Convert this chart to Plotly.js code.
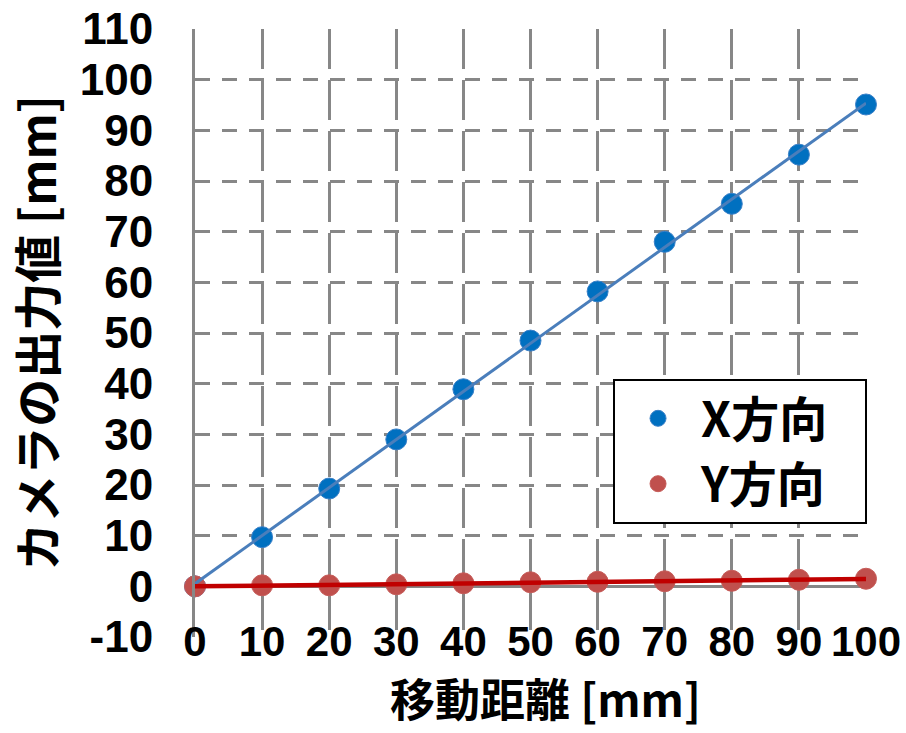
<!DOCTYPE html>
<html>
<head>
<meta charset="utf-8">
<script src="https://cdn.plot.ly/plotly-3.0.1.min.js"></script>
<style>html,body{margin:0;padding:0;background:#fff;}#chart{width:906px;height:733px;}</style>
</head>
<body>
<div id="chart"></div>
<script>
// Data
const distance = [0, 10, 20, 30, 40, 50, 60, 70, 80, 90, 100];
const xDirection = [0, 9.7, 19.3, 29.0, 38.9, 48.5, 58.2, 68.0, 75.5, 85.2, 95.1];
const yDirection = [0, 0.2, 0.2, 0.4, 0.6, 0.8, 0.9, 1.0, 1.1, 1.3, 1.5];
const seriesNames = ["X方向", "Y方向"];
const xTickVals = [0, 10, 20, 30, 40, 50, 60, 70, 80, 90, 100];
const xTickText = ["0", "10", "20", "30", "40", "50", "60", "70", "80", "90", "100"];
const yTickVals = [-10, 0, 10, 20, 30, 40, 50, 60, 70, 80, 90, 100, 110];
const yTickText = ["-10", "0", "10", "20", "30", "40", "50", "60", "70", "80", "90", "100", "110"];
const xTitle = "移動距離 [mm]";
const yTitle = "カメラの出力値 [mm]";

// Least-squares linear trendline computed from the data
function fit(xs, ys) {
  const n = xs.length;
  const mx = xs.reduce((a, b) => a + b, 0) / n;
  const my = ys.reduce((a, b) => a + b, 0) / n;
  let sxy = 0, sxx = 0;
  for (let i = 0; i < n; i++) { sxy += (xs[i] - mx) * (ys[i] - my); sxx += (xs[i] - mx) ** 2; }
  const m = sxy / sxx, b = my - m * mx;
  const x0 = Math.min(...xs), x1 = Math.max(...xs);
  return { x: [x0, x1], y: [m * x0 + b, m * x1 + b] };
}
const fitX = fit(distance, xDirection);
const fitY = fit(distance, yDirection);

const jp = "'Noto Sans CJK JP', 'Noto Sans', sans-serif";
const num = "'Liberation Sans', Arial, sans-serif";
const pad = "\u00a0\u00a0\u00a0"; // widens the legend box like the reference

const traces = [
  { type: "scatter", mode: "markers", name: seriesNames[0] + pad, x: distance, y: xDirection,
    marker: { color: "#0070C0", size: 21, line: { color: "#3A80C8", width: 1 } },
    cliponaxis: false, legendgroup: "a" },
  { type: "scatter", mode: "markers", name: seriesNames[1] + pad, x: distance, y: yDirection,
    marker: { color: "#C0504D", size: 21, line: { color: "#C65C59", width: 1 } },
    cliponaxis: false, legendgroup: "b" },
  { type: "scatter", mode: "lines", x: fitX.x, y: fitX.y, showlegend: false, cliponaxis: false,
    line: { color: "#4A7EBB", width: 3 }, hoverinfo: "skip" },
  { type: "scatter", mode: "lines", x: fitY.x, y: fitY.y, showlegend: false, cliponaxis: false,
    line: { color: "#C00000", width: 4.5 }, hoverinfo: "skip" }
];

const layout = {
  width: 906, height: 733,
  paper_bgcolor: "#ffffff", plot_bgcolor: "#ffffff",
  margin: { l: 195, r: 40, t: 29, b: 96 },
  showlegend: true,
  xaxis: {
    range: [0, 100], tickvals: xTickVals, ticktext: xTickText, ticks: "", showline: false, zeroline: false,
    showgrid: true, gridcolor: "#878787", gridwidth: 3, griddash: "40px,11px",
    tickfont: { family: num, size: 42, weight: "bold", color: "#000" },
    ticklabelstandoff: -24
  },
  yaxis: {
    range: [-10, 110], tickvals: yTickVals, ticktext: yTickText, ticks: "",
    showline: true, linecolor: "#878787", linewidth: 3,
    zeroline: true, zerolinecolor: "#878787", zerolinewidth: 3.5,
    showgrid: true, gridcolor: "#878787", gridwidth: 3, griddash: "15px,12px",
    tickfont: { family: num, size: 44, weight: "bold", color: "#000" },
    ticklabelstandoff: 30,
    title: { text: yTitle, font: { family: jp, size: 48, weight: "bold", color: "#000" }, standoff: 12 }
  },
  annotations: [{
    text: xTitle, xref: "paper", yref: "paper", x: 0.522, y: -0.0987,
    xanchor: "center", yanchor: "middle", showarrow: false, borderpad: 0,
    font: { family: jp, size: 45, weight: "bold", color: "#000" }
  }],
  legend: {
    x: 0.623, y: 0.425, xanchor: "left", yanchor: "top",
    bgcolor: "#ffffff", bordercolor: "#000000", borderwidth: 2,
    font: { family: jp, size: 48, weight: "bold", color: "#000" },
    traceorder: "grouped", tracegroupgap: 0, itemsizing: "trace", itemwidth: 76
  }
};

Plotly.newPlot("chart", traces, layout, { displayModeBar: false, staticPlot: true });
</script>
</body>
</html>
